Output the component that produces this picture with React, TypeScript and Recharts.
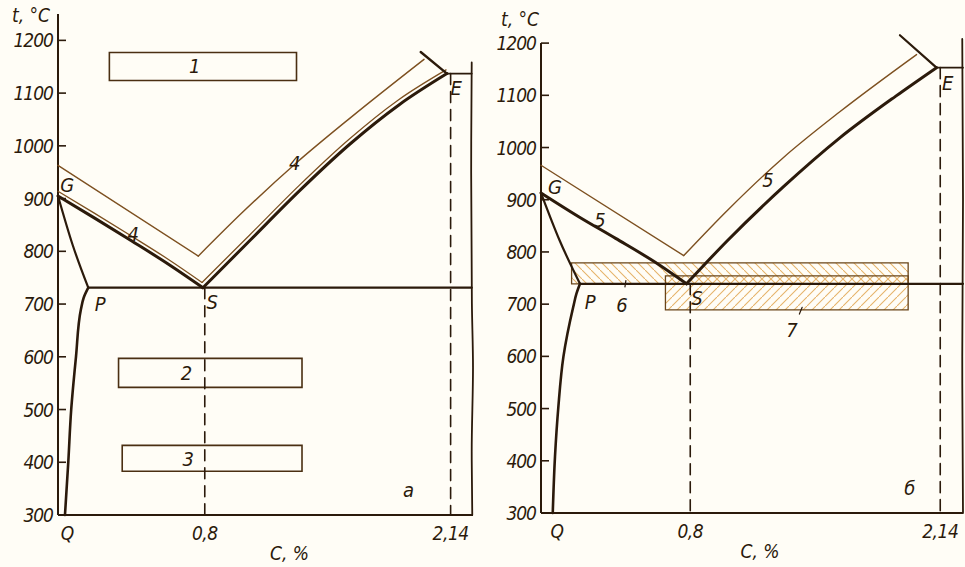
import React from 'react';
import { ComposedChart, Line, Scatter, XAxis, YAxis, ReferenceArea, ReferenceLine } from 'recharts';

const BG = '#fffdf6';
const INK = '#2b1a0b';
const THIN = '#7d5020';
const HATCH = '#e6b26a';
const FONT = "'Liberation Sans Narrow', 'DejaVu Sans Condensed', 'Liberation Sans', sans-serif";

const yTicks = [300, 400, 500, 600, 700, 800, 900, 1000, 1100, 1200];
const xTicksA = [0.05, 0.8, 2.14];
const xTicksB = [0.085, 0.8, 2.14];
const xTickLabels = ['Q', '0,8', '2,14'];

// panel "а"
const gsA = [{ x: 0, t: 905 }, { x: 0.2, t: 863 }, { x: 0.4, t: 820 }, { x: 0.6, t: 776 }, { x: 0.79, t: 731 }];
const seA = [{ x: 0.79, t: 731 }, { x: 1.05, t: 822 }, { x: 1.32, t: 916 }, { x: 1.59, t: 1003 }, { x: 1.86, t: 1078 }, { x: 2.12, t: 1137 }];
const gsNearA = [{ x: 0, t: 914 }, { x: 0.2, t: 872 }, { x: 0.4, t: 829 }, { x: 0.6, t: 785 }, { x: 0.785, t: 741 }];
const seNearA = [{ x: 0.785, t: 741 }, { x: 1.045, t: 831 }, { x: 1.315, t: 925 }, { x: 1.585, t: 1012 }, { x: 1.855, t: 1087 }, { x: 2.115, t: 1144 }];
const upLeftA = [{ x: 0, t: 963 }, { x: 0.765, t: 791 }];
const upRightA = [{ x: 0.765, t: 791 }, { x: 1.0, t: 872 }, { x: 1.3, t: 968 }, { x: 1.6, t: 1055 }, { x: 1.995, t: 1164 }];
const tickA = [{ x: 1.977, t: 1178 }, { x: 2.12, t: 1137 }];
const eLineA = [{ x: 2.12, t: 1137 }, { x: 2.255, t: 1137 }];
const gpA = [{ x: 0, t: 905 }, { x: 0.08, t: 812 }, { x: 0.165, t: 731 }];
const pqA = [{ x: 0.038, t: 300 }, { x: 0.056, t: 400 }, { x: 0.072, t: 500 }, { x: 0.098, t: 600 }, { x: 0.125, t: 690 }, { x: 0.14, t: 712 }, { x: 0.165, t: 731 }];
const pskA = [{ x: 0.165, t: 731 }, { x: 2.255, t: 731 }];
const dashSA = [{ x: 0.8, t: 731 }, { x: 0.8, t: 300 }];
const dashEA = [{ x: 2.14, t: 1137 }, { x: 2.14, t: 300 }];
const borderA = [{ x: 2.258, t: 300 }, { x: 2.255, t: 420 }, { x: 2.262, t: 580 }, { x: 2.256, t: 700 }, { x: 2.252, t: 950 }, { x: 2.255, t: 1158 }];
const boxesA = [
  { x1: 0.28, x2: 1.3, t1: 1124, t2: 1177 },
  { x1: 0.33, x2: 1.33, t1: 542, t2: 597 },
  { x1: 0.35, x2: 1.33, t1: 383, t2: 432 },
];
const labelsA = [
  { x: 0.05, t: 925, text: 'G' },
  { x: 0.41, t: 832, text: '4' },
  { x: 1.29, t: 967, text: '4' },
  { x: 0.23, t: 701, text: 'P' },
  { x: 0.84, t: 703, text: 'S' },
  { x: 2.17, t: 1109, text: 'E' },
  { x: 0.745, t: 1151, text: '1' },
  { x: 0.7, t: 569, text: '2' },
  { x: 0.71, t: 406, text: '3' },
  { x: 1.91, t: 347, text: 'а' },
];

// panel "б"
const gsB = [{ x: 0, t: 913 }, { x: 0.2, t: 868 }, { x: 0.4, t: 826 }, { x: 0.6, t: 783 }, { x: 0.78, t: 739 }];
const seB = [{ x: 0.78, t: 739 }, { x: 1.0, t: 822 }, { x: 1.3, t: 925 }, { x: 1.6, t: 1018 }, { x: 1.9, t: 1098 }, { x: 2.12, t: 1153 }];
const upLeftB = [{ x: 0, t: 966 }, { x: 0.765, t: 793 }];
const upRightB = [{ x: 0.765, t: 793 }, { x: 1.0, t: 880 }, { x: 1.3, t: 981 }, { x: 1.6, t: 1068 }, { x: 2.013, t: 1178 }];
const tickB = [{ x: 1.924, t: 1215 }, { x: 2.12, t: 1153 }];
const eLineB = [{ x: 2.12, t: 1153 }, { x: 2.262, t: 1153 }];
const gpB = [{ x: 0, t: 913 }, { x: 0.1, t: 822 }, { x: 0.209, t: 739 }];
const pqB = [{ x: 0.063, t: 300 }, { x: 0.075, t: 408 }, { x: 0.093, t: 503 }, { x: 0.12, t: 599 }, { x: 0.173, t: 695 }, { x: 0.19, t: 720 }, { x: 0.209, t: 739 }];
const pskB = [{ x: 0.209, t: 739 }, { x: 2.262, t: 739 }];
const dashSB = [{ x: 0.8, t: 739 }, { x: 0.8, t: 300 }];
const dashEB = [{ x: 2.14, t: 1153 }, { x: 2.14, t: 300 }];
const borderB = [{ x: 2.262, t: 300 }, { x: 2.258, t: 600 }, { x: 2.262, t: 900 }, { x: 2.258, t: 1208 }];
const lead6 = [{ x: 0.45, t: 733 }, { x: 0.455, t: 745 }];
const lead7 = [{ x: 1.385, t: 681 }, { x: 1.4, t: 694 }];
const band6 = { x1: 0.164, x2: 1.968, t1: 739, t2: 779 };
const box7 = { x1: 0.667, x2: 1.968, t1: 689, t2: 754 };
const labelsB = [
  { x: 0.075, t: 924, text: 'G' },
  { x: 0.316, t: 861, text: '5' },
  { x: 1.217, t: 938, text: '5' },
  { x: 0.263, t: 704, text: 'P' },
  { x: 0.434, t: 698, text: '6' },
  { x: 0.836, t: 711, text: 'S' },
  { x: 1.345, t: 650, text: '7' },
  { x: 2.18, t: 1123, text: 'E' },
  { x: 1.977, t: 348, text: 'б' },
];

const curve = (key: string, data: any[], width: number, color = INK, type: any = 'monotone', dash?: string) => (
  <Line
    key={key}
    data={data}
    dataKey="t"
    type={type}
    stroke={color}
    strokeWidth={width}
    strokeDasharray={dash}
    dot={false}
    activeDot={false}
    isAnimationActive={false}
    strokeLinecap="round"
  />
);

const textStyle = { fontFamily: FONT, fontStyle: 'italic' as const, fill: INK };

const renderLabel = (props: any) => (
  <text x={props.cx} y={props.cy} textAnchor="middle" dominantBaseline="central" fontSize={20} {...textStyle}>
    {props.payload.text}
  </text>
);

const YTick = ({ x, y, payload }: any) => (
  <g>
    <line x1={x} x2={x + 8} y1={y} y2={y} stroke={INK} strokeWidth={1.6} />
    <text x={x - 5} y={y} dy={7} textAnchor="end" fontSize={19} letterSpacing={-1} {...textStyle}>
      {payload.value}
    </text>
  </g>
);

const makeXTick = (ticks: number[]) => ({ x, y, payload }: any) => (
  <text x={x} y={y} dy={25} textAnchor="middle" fontSize={19} letterSpacing={-0.5} {...textStyle}>
    {xTickLabels[ticks.indexOf(payload.value)]}
  </text>
);

const xTitle = (dx: number) => ({ viewBox }: any) => (
  <text x={viewBox.x + viewBox.width / 2 + dx} y={viewBox.y + 45} textAnchor="middle" fontSize={19} {...textStyle}>
    C, %
  </text>
);

const yTitle = (gap: number, dy: number) => ({ viewBox }: any) => (
  <text x={viewBox.x + viewBox.width - gap} y={viewBox.y + dy} textAnchor="end" fontSize={19} {...textStyle}>
    t, °C
  </text>
);

function PanelA() {
  return (
    <ComposedChart width={480} height={567} margin={{ top: 14, right: 7, bottom: 0, left: 0 }}>
      <XAxis
        type="number"
        dataKey="x"
        domain={[0, 2.255]}
        ticks={xTicksA}
        tick={makeXTick(xTicksA)}
        tickSize={0}
        tickMargin={0}
        tickLine={false}
        height={52}
        axisLine={{ stroke: INK, strokeWidth: 2.2 }}
        label={{ content: xTitle(24) }}
      />
      <YAxis
        type="number"
        dataKey="t"
        domain={[300, 1250]}
        ticks={yTicks}
        tick={<YTick />}
        tickSize={0}
        tickMargin={0}
        tickLine={false}
        axisLine={false}
        width={58}
        label={{ content: yTitle(8, 8) }}
      />
      <ReferenceLine segment={[{ x: 0, y: 300 }, { x: 0, y: 1250 }]} stroke={INK} strokeWidth={2} />
      {boxesA.map((b, i) => (
        <ReferenceArea key={`box-${i}`} x1={b.x1} x2={b.x2} y1={b.t1} y2={b.t2} fill="none" stroke="#4a2f12" strokeWidth={1.6} />
      ))}
      {curve('upL', upLeftA, 1.4, THIN, 'linear')}
      {curve('upR', upRightA, 1.4, THIN)}
      {curve('gsNear', gsNearA, 1.3, THIN)}
      {curve('seNear', seNearA, 1.3, THIN)}
      {curve('gs', gsA, 3)}
      {curve('se', seA, 3)}
      {curve('tick', tickA, 2.4, INK, 'linear')}
      {curve('eLine', eLineA, 1.8, INK, 'linear')}
      {curve('gp', gpA, 2.2)}
      {curve('pq', pqA, 2.6, INK, 'monotoneY')}
      {curve('psk', pskA, 2.2, INK, 'linear')}
      {curve('dashS', dashSA, 1.6, INK, 'linear', '11 7')}
      {curve('dashE', dashEA, 1.6, INK, 'linear', '11 7')}
      {curve('border', borderA, 1.8, INK, 'monotoneY')}
      <Scatter data={labelsA} shape={renderLabel} isAnimationActive={false} />
    </ComposedChart>
  );
}

function PanelB() {
  return (
    <ComposedChart width={482} height={567} margin={{ top: 17, right: 2, bottom: 0, left: 0 }}>
      <defs>
        <pattern id="hatchBack" patternUnits="userSpaceOnUse" width="9" height="9">
          <path d="M-2,-2 L11,11" stroke={HATCH} strokeWidth={1.1} />
        </pattern>
        <pattern id="hatchFwd" patternUnits="userSpaceOnUse" width="9" height="9">
          <path d="M-2,11 L11,-2" stroke={HATCH} strokeWidth={1.1} />
        </pattern>
      </defs>
      <XAxis
        type="number"
        dataKey="x"
        domain={[0, 2.262]}
        ticks={xTicksB}
        tick={makeXTick(xTicksB)}
        tickSize={0}
        tickMargin={0}
        tickLine={false}
        height={54}
        axisLine={{ stroke: INK, strokeWidth: 2.2 }}
        label={{ content: xTitle(8) }}
      />
      <YAxis
        type="number"
        dataKey="t"
        domain={[300, 1250]}
        ticks={yTicks}
        tick={<YTick />}
        tickSize={0}
        tickMargin={0}
        tickLine={false}
        axisLine={false}
        width={58}
        label={{ content: yTitle(2, 9) }}
      />
      <ReferenceLine segment={[{ x: 0, y: 300 }, { x: 0, y: 1200 }]} stroke={INK} strokeWidth={2} />
      <ReferenceArea x1={band6.x1} x2={band6.x2} y1={band6.t1} y2={band6.t2} fill="url(#hatchBack)" fillOpacity={1} stroke="#6a4519" strokeWidth={1.3} />
      <ReferenceArea x1={box7.x1} x2={box7.x2} y1={box7.t1} y2={box7.t2} fill="url(#hatchFwd)" fillOpacity={1} stroke="#6a4519" strokeWidth={1.3} />
      {curve('upL', upLeftB, 1.4, THIN, 'linear')}
      {curve('upR', upRightB, 1.4, THIN)}
      {curve('gs', gsB, 3)}
      {curve('se', seB, 3)}
      {curve('tick', tickB, 2.2, INK, 'linear')}
      {curve('eLine', eLineB, 1.8, INK, 'linear')}
      {curve('gp', gpB, 2.2)}
      {curve('pq', pqB, 2.6, INK, 'monotoneY')}
      {curve('psk', pskB, 2.2, INK, 'linear')}
      {curve('dashS', dashSB, 1.6, INK, 'linear', '11 7')}
      {curve('dashE', dashEB, 1.6, INK, 'linear', '11 7')}
      {curve('border', borderB, 1.8, INK, 'monotoneY')}
      {curve('lead6', lead6, 1.2, INK, 'linear')}
      {curve('lead7', lead7, 1.2, INK, 'linear')}
      <Scatter data={labelsB} shape={renderLabel} isAnimationActive={false} />
    </ComposedChart>
  );
}

export default function App() {
  return (
    <div style={{ position: 'absolute', left: 0, top: 0, width: 965, height: 567, background: BG, overflow: 'hidden' }}>
      <div style={{ position: 'absolute', left: 0, top: 0 }}>
        <PanelA />
      </div>
      <div style={{ position: 'absolute', left: 483, top: 0 }}>
        <PanelB />
      </div>
    </div>
  );
}
